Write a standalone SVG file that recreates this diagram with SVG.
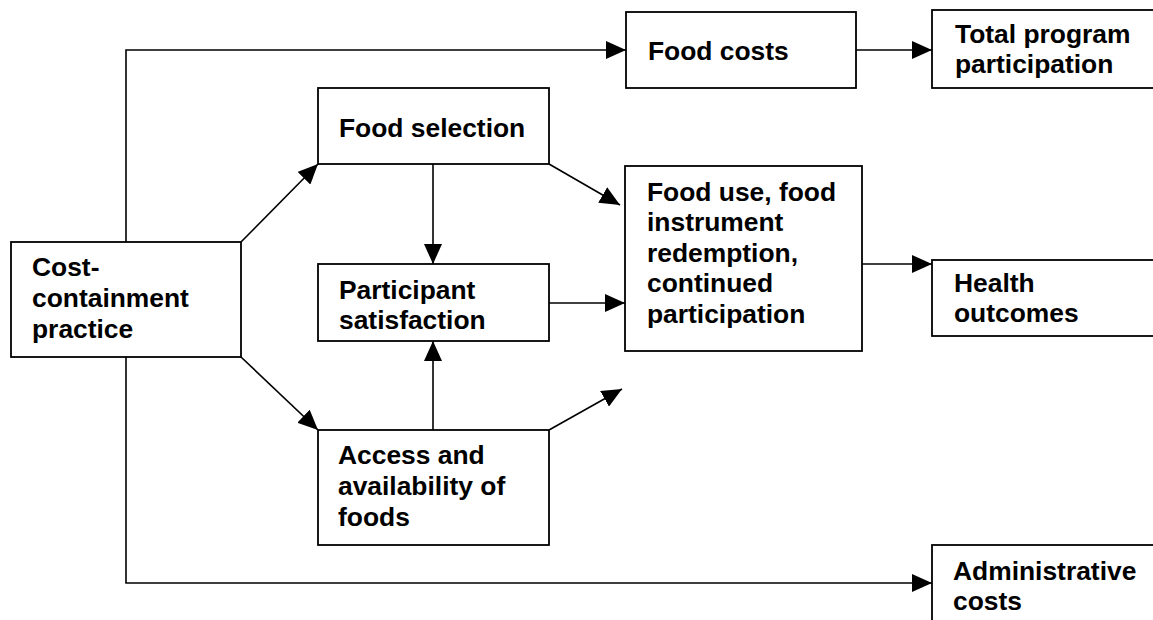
<svg xmlns="http://www.w3.org/2000/svg" width="1153" height="620" viewBox="0 0 1153 620">
<style>
  .box { fill: #fff; stroke: #000; stroke-width: 1.8; }
  .lbl { font-family: "Liberation Sans", Arial, Helvetica, sans-serif; font-weight: bold; font-size: 26.4px; fill: #000; }
  .con { fill: none; stroke: #000; stroke-width: 1.6; }
</style>
<defs>
  <marker id="arr" markerUnits="userSpaceOnUse" markerWidth="20" markerHeight="18" refX="20" refY="9" orient="auto">
    <path d="M0,0 L20,9 L0,18 z" fill="#000"/>
  </marker>
</defs>
<rect width="1153" height="620" fill="#fff"/>
<g id="connectors">
  <polyline class="con" points="126,242 126,50 626,50" marker-end="url(#arr)"/>
  <line class="con" x1="856" y1="50" x2="932" y2="50" marker-end="url(#arr)"/>
  <line class="con" x1="241" y1="242" x2="318" y2="164" marker-end="url(#arr)"/>
  <line class="con" x1="241" y1="357" x2="318" y2="430" marker-end="url(#arr)"/>
  <line class="con" x1="433" y1="164" x2="433" y2="264" marker-end="url(#arr)"/>
  <line class="con" x1="433" y1="430" x2="433" y2="341" marker-end="url(#arr)"/>
  <line class="con" x1="549" y1="164" x2="620" y2="205" marker-end="url(#arr)"/>
  <line class="con" x1="549" y1="303" x2="625" y2="303" marker-end="url(#arr)"/>
  <line class="con" x1="549" y1="430" x2="622" y2="389" marker-end="url(#arr)"/>
  <line class="con" x1="862" y1="264" x2="932" y2="264" marker-end="url(#arr)"/>
  <polyline class="con" points="126,357 126,583 932,583" marker-end="url(#arr)"/>
</g>
<g id="cost">
  <rect class="box" x="11" y="242" width="230" height="115"/>
  <text class="lbl" x="32" y="276">Cost-</text>
  <text class="lbl" x="32" y="307">containment</text>
  <text class="lbl" x="32" y="338">practice</text>
</g>
<g id="foodcosts">
  <rect class="box" x="626" y="12" width="230" height="76"/>
  <text class="lbl" x="648" y="60">Food costs</text>
</g>
<g id="total">
  <rect class="box" x="932" y="10" width="240" height="78"/>
  <text class="lbl" x="955" y="43">Total program</text>
  <text class="lbl" x="955" y="73">participation</text>
</g>
<g id="foodselection">
  <rect class="box" x="318" y="88" width="231" height="76"/>
  <text class="lbl" x="339" y="137">Food selection</text>
</g>
<g id="participant">
  <rect class="box" x="318" y="264" width="231" height="77"/>
  <text class="lbl" x="339" y="299">Participant</text>
  <text class="lbl" x="339" y="329">satisfaction</text>
</g>
<g id="access">
  <rect class="box" x="318" y="430" width="231" height="115"/>
  <text class="lbl" x="338" y="464">Access and</text>
  <text class="lbl" x="338" y="495">availability of</text>
  <text class="lbl" x="338" y="526">foods</text>
</g>
<g id="fooduse">
  <rect class="box" x="625" y="166" width="237" height="185"/>
  <text class="lbl" x="647" y="201">Food use, food</text>
  <text class="lbl" x="647" y="231">instrument</text>
  <text class="lbl" x="647" y="262">redemption,</text>
  <text class="lbl" x="647" y="292">continued</text>
  <text class="lbl" x="647" y="323">participation</text>
</g>
<g id="health">
  <rect class="box" x="932" y="260" width="240" height="76"/>
  <text class="lbl" x="954" y="292">Health</text>
  <text class="lbl" x="954" y="322">outcomes</text>
</g>
<g id="admin">
  <rect class="box" x="932" y="545" width="240" height="90"/>
  <text class="lbl" x="953" y="580">Administrative</text>
  <text class="lbl" x="953" y="610">costs</text>
</g>
</svg>
